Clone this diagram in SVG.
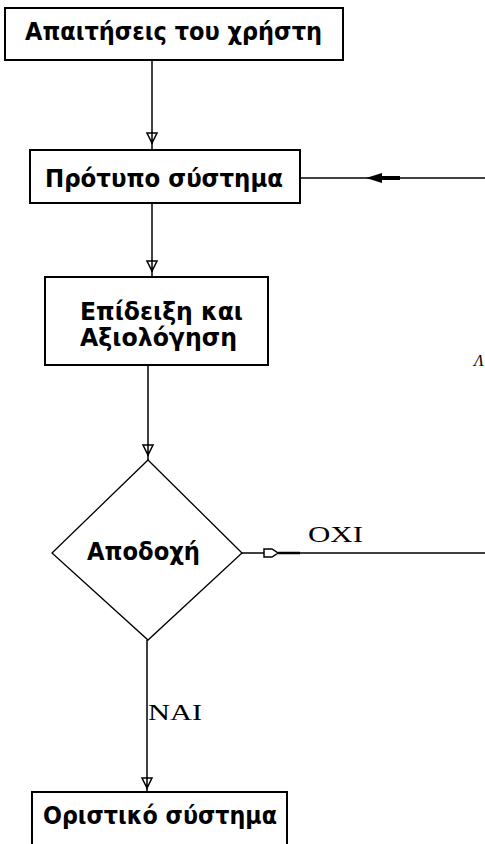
<svg xmlns="http://www.w3.org/2000/svg" xmlns:xlink="http://www.w3.org/1999/xlink" width="485" height="844" viewBox="0 0 485 844">
<style>
.box{fill:#fff;stroke:#000;stroke-width:2}
.lbl{font-family:"DejaVu Sans","Liberation Sans",sans-serif;font-weight:bold;font-size:24px;fill:#000}
.ser{font-family:"Liberation Serif","DejaVu Serif",serif;font-size:24px;fill:#000}
.ln{fill:none;stroke:#000;stroke-width:1.5}
.ah{fill:#fff;stroke:#000;stroke-width:1.5}
</style>
<defs>
<path id="ahd" class="ah" d="M-5,-5 L5,-5 L0,5 Z M0,-6 L0,6"/>
</defs>
<rect width="485" height="844" fill="#fff"/>
<g id="connectors">
<path class="ln" d="M152,60 V150"/>
<use xlink:href="#ahd" x="152" y="138"/>
<path class="ln" d="M152,203 V277"/>
<use xlink:href="#ahd" x="152" y="266"/>
<path class="ln" d="M300,178 H485"/>
<path d="M366,178 L382,173 L382,183 Z" fill="#000"/>
<path d="M380,176 H400 V180 H380 Z" fill="#000"/>
<path class="ln" d="M148,365 V460"/>
<use xlink:href="#ahd" x="148" y="450"/>
<path class="ln" d="M242,553 H485"/>
<path d="M264,549 L272,549 L278,553 L272,557 L264,557 Z" fill="#fff" stroke="#000" stroke-width="1.5"/>
<path d="M278,553 H300" stroke="#000" stroke-width="2.5"/>
<path class="ln" d="M147,640 V792"/>
<use xlink:href="#ahd" x="147" y="783"/>
<text class="ser" x="308" y="542" textLength="55" lengthAdjust="spacingAndGlyphs">OXI</text>
<text class="ser" x="148" y="720" textLength="54" lengthAdjust="spacingAndGlyphs">NAI</text>
<text x="474" y="366" font-family="Liberation Serif,serif" font-style="italic" font-size="16" fill="#000">Λ</text>
</g>
<g id="n1">
<rect class="box" x="5" y="8" width="338" height="52"/>
<text class="lbl" x="25" y="40" textLength="297" lengthAdjust="spacingAndGlyphs">Απαιτήσεις του χρήστη</text>
</g>
<g id="n2">
<rect class="box" x="30" y="150" width="270" height="53"/>
<text class="lbl" x="45" y="187" textLength="238" lengthAdjust="spacingAndGlyphs">Πρότυπο σύστημα</text>
</g>
<g id="n3">
<rect class="box" x="45" y="277" width="223" height="88"/>
<text class="lbl" x="80" y="320" textLength="163" lengthAdjust="spacingAndGlyphs">Επίδειξη και</text>
<text class="lbl" x="80" y="346" textLength="157" lengthAdjust="spacingAndGlyphs">Αξιολόγηση</text>
</g>
<g id="n4">
<polygon points="148,460 242,553 148,640 52,553" fill="#fff" stroke="#000" stroke-width="1.3"/>
<text class="lbl" x="87" y="560" textLength="113" lengthAdjust="spacingAndGlyphs">Αποδοχή</text>
</g>
<g id="n5">
<rect class="box" x="32" y="792" width="255" height="60"/>
<text class="lbl" x="43" y="824" textLength="234" lengthAdjust="spacingAndGlyphs">Οριστικό σύστημα</text>
</g>
</svg>
